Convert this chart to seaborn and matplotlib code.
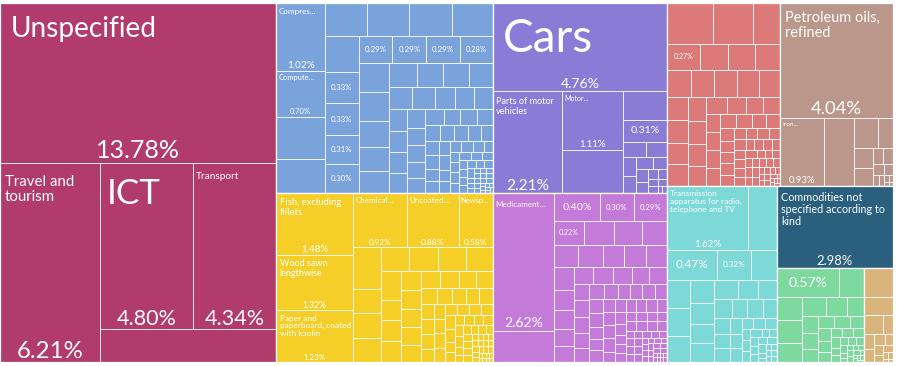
import matplotlib
matplotlib.use("Agg")
import matplotlib.pyplot as plt
from matplotlib.patches import Rectangle
import pandas as pd
import seaborn as sns

# export shares (%) per product, grouped by section
services_shares = [13.78, 6.21, 4.80, 4.34, 1.81]
machines_shares = [1.02, 0.70, 0.63, 0.52, 0.43, 0.43, 0.43, 0.42, 0.38, 0.33, 0.33, 0.31, 0.30,
                   0.29, 0.29, 0.29, 0.28, 0.27, 0.27, 0.25, 0.22, 0.21, 0.21, 0.20, 0.19, 0.18,
                   0.16, 0.16, 0.14, 0.13, 0.13, 0.12, 0.12, 0.12, 0.11, 0.11, 0.10, 0.10, 0.09,
                   0.09, 0.09, 0.08, 0.08, 0.08, 0.07, 0.07, 0.07, 0.06, 0.06, 0.06, 0.06, 0.05,
                   0.05, 0.05, 0.05, 0.04, 0.04, 0.04, 0.04, 0.04, 0.03, 0.03, 0.03, 0.03, 0.03,
                   0.03, 0.03, 0.03, 0.02, 0.02, 0.02, 0.02, 0.02, 0.02, 0.02, 0.02, 0.01, 0.01,
                   0.01, 0.01, 0.01, 0.01, 0.01, 0.01, 0.01, 0.01, 0.01, 0.01, 0.01, 0.01,
                   0.005, 0.005, 0.005, 0.005, 0.005, 0.005, 0.005, 0.005]
paper_shares = [1.48, 1.32, 1.23, 0.92, 0.88, 0.58, 0.36, 0.21, 0.21, 0.21, 0.21, 0.21, 0.20, 0.20,
                0.18, 0.13, 0.13, 0.13, 0.12, 0.12, 0.12, 0.11, 0.11, 0.10, 0.10, 0.09, 0.09, 0.08,
                0.08, 0.07, 0.07, 0.07, 0.06, 0.06, 0.06, 0.05, 0.05, 0.05, 0.05, 0.05, 0.04, 0.04,
                0.04, 0.04, 0.04, 0.04, 0.03, 0.03, 0.03, 0.03, 0.03, 0.03, 0.03, 0.03, 0.02, 0.02,
                0.02, 0.02, 0.02, 0.02, 0.02, 0.02, 0.02, 0.02, 0.01, 0.01, 0.01, 0.01, 0.01, 0.01,
                0.01, 0.01, 0.01, 0.01, 0.01, 0.01, 0.01, 0.01,
                0.005, 0.005, 0.005, 0.005, 0.005, 0.005, 0.005, 0.005]
vehicles_shares = [4.76, 2.21, 1.11, 0.82, 0.40, 0.31, 0.11, 0.10, 0.08, 0.07, 0.06, 0.05, 0.05,
                   0.04, 0.03, 0.03, 0.02, 0.02, 0.02, 0.01, 0.01]
chemicals_shares = [2.62, 0.60, 0.40, 0.30, 0.29, 0.22, 0.22, 0.21, 0.18, 0.17, 0.17, 0.15, 0.15,
                    0.15, 0.14, 0.12, 0.12, 0.10, 0.10, 0.10, 0.10, 0.10, 0.09, 0.09, 0.08, 0.08,
                    0.08, 0.07, 0.07, 0.07, 0.07, 0.06, 0.06, 0.06, 0.06, 0.06, 0.06, 0.05, 0.05,
                    0.05, 0.05, 0.05, 0.05, 0.05, 0.04, 0.04, 0.04, 0.04, 0.04, 0.04, 0.04, 0.04,
                    0.03, 0.03, 0.03, 0.03, 0.03, 0.03, 0.03, 0.03, 0.03, 0.03, 0.03, 0.02, 0.02,
                    0.02, 0.02, 0.02, 0.02, 0.02, 0.02, 0.02, 0.02, 0.02, 0.01, 0.01, 0.01, 0.01,
                    0.01, 0.01, 0.01, 0.01, 0.01, 0.01, 0.01, 0.01, 0.01, 0.01,
                    0.005, 0.005, 0.005, 0.005, 0.005, 0.005, 0.005, 0.005]
metals_shares = [0.58, 0.51, 0.34, 0.27, 0.23, 0.22, 0.21, 0.20, 0.20, 0.19, 0.19, 0.18, 0.15,
                 0.15, 0.14, 0.14, 0.13, 0.13, 0.12, 0.11, 0.11, 0.10, 0.09, 0.09, 0.08, 0.08,
                 0.08, 0.08, 0.07, 0.07, 0.06, 0.06, 0.06, 0.05, 0.05, 0.05, 0.05, 0.04, 0.04,
                 0.04, 0.04, 0.04, 0.03, 0.03, 0.03, 0.03, 0.03, 0.03, 0.03, 0.03, 0.03, 0.02,
                 0.02, 0.02, 0.02, 0.02, 0.02, 0.02, 0.02, 0.02, 0.02, 0.02, 0.02, 0.01, 0.01,
                 0.01, 0.01, 0.01, 0.01, 0.01, 0.01, 0.01,
                 0.005, 0.005, 0.005, 0.005, 0.005, 0.005]
minerals_shares = [4.04, 0.93, 0.64, 0.22, 0.14, 0.12, 0.10, 0.05, 0.05, 0.04, 0.03, 0.02, 0.02,
                   0.01, 0.01, 0.005, 0.005]
electronics_shares = [1.62, 0.57, 0.47, 0.32, 0.24, 0.20, 0.20, 0.19, 0.17, 0.16, 0.15, 0.14, 0.14,
                      0.12, 0.11, 0.10, 0.09, 0.09, 0.08, 0.08, 0.07, 0.07, 0.06, 0.05, 0.05,
                      0.04, 0.04, 0.04, 0.03, 0.03, 0.03, 0.03, 0.02, 0.02, 0.02, 0.02, 0.02,
                      0.02, 0.02, 0.02, 0.01, 0.01, 0.01, 0.01, 0.01, 0.01, 0.01, 0.01]
unclassified_shares = [2.98]
vegetables_shares = [0.57, 0.23, 0.18, 0.18, 0.15, 0.14, 0.12, 0.10, 0.09, 0.08, 0.07, 0.06, 0.06,
                     0.05, 0.05, 0.04, 0.04, 0.03, 0.03, 0.03, 0.03, 0.02, 0.02, 0.02, 0.02,
                     0.02, 0.02, 0.01, 0.01, 0.01, 0.01, 0.01, 0.01, 0.01, 0.01,
                     0.005, 0.005, 0.005, 0.005, 0.005, 0.005]
textiles_shares = [0.27, 0.16, 0.11, 0.06, 0.05, 0.04, 0.04, 0.03, 0.03, 0.02, 0.02, 0.01, 0.01,
                   0.005, 0.005]

# product names shown in the cells
services_names = {0: "Unspecified", 1: "Travel and\ntourism", 2: "ICT", 3: "Transport"}
machines_names = {0: "Compres...", 1: "Compute..."}
paper_names = {0: "Fish, excluding\nfillets", 1: "Wood sawn\nlengthwise",
               2: "Paper and\npaperboard, coated\nwith kaolin", 3: "Chemical...",
               4: "Uncoated...", 5: "Newsp..."}
vehicles_names = {0: "Cars", 1: "Parts of motor\nvehicles", 2: "Motor..."}
chemicals_names = {0: "Medicament..."}
minerals_names = {0: "Petroleum oils,\nrefined", 1: "Iron..."}
electronics_names = {0: "Transmission\napparatus for radio,\ntelephone and TV"}
unclassified_names = {0: "Commodities not\nspecified according to\nkind"}

sections = ["services", "machines", "paper", "vehicles", "chemicals", "metals", "minerals",
            "electronics", "unclassified", "vegetables", "textiles"]
shares = [services_shares, machines_shares, paper_shares, vehicles_shares, chemicals_shares,
          metals_shares, minerals_shares, electronics_shares, unclassified_shares,
          vegetables_shares, textiles_shares]
names = [services_names, machines_names, paper_names, vehicles_names, chemicals_names, {},
         minerals_names, electronics_names, unclassified_names, {}, {}]
palette = sns.color_palette(["#B13B6B", "#7BA3DB", "#F5CF27", "#8A7BD6", "#C47AD8", "#DC7A7A",
                             "#BA978A", "#7DD8D8", "#2A5F7D", "#7ED99E", "#D9B47C"])

# label font sizes in pixels: (name, share); a key means the share is printed
label_px = {
    ("services", 0): (28, 25), ("services", 1): (15, 24), ("services", 2): (35, 21.5),
    ("services", 3): (10, 21.5),
    ("machines", 0): (8, 10), ("machines", 1): (7.5, 7.5),
    ("machines", 9): (None, 7.8), ("machines", 10): (None, 7.8), ("machines", 11): (None, 7.8),
    ("machines", 12): (None, 7.8), ("machines", 13): (None, 8), ("machines", 14): (None, 8),
    ("machines", 15): (None, 8), ("machines", 16): (None, 7.5),
    ("paper", 0): (9.5, 9.8), ("paper", 1): (9, 8.7), ("paper", 2): (8.3, 8),
    ("paper", 3): (8, 8.2), ("paper", 4): (8, 8.5), ("paper", 5): (7.5, 8.5),
    ("vehicles", 0): (46, 14), ("vehicles", 1): (9.2, 15.5), ("vehicles", 2): (7, 9.7),
    ("vehicles", 5): (None, 10.5),
    ("chemicals", 0): (8, 14), ("chemicals", 2): (None, 10.5), ("chemicals", 3): (None, 7.8),
    ("chemicals", 4): (None, 7.8), ("chemicals", 5): (None, 7.2),
    ("metals", 3): (None, 7.2),
    ("minerals", 0): (14.5, 18.5), ("minerals", 1): (6.5, 9.7),
    ("electronics", 0): (8.3, 9.8), ("electronics", 2): (None, 11.7),
    ("electronics", 3): (None, 8.1),
    ("unclassified", 0): (10.8, 13),
    ("vegetables", 0): (None, 14),
}


def squarify(values, x0, y0, x1, y1):
    """Squarified treemap (d3 style, ratio 1); values sorted descending."""
    rects = []
    total = float(sum(values))
    n = len(values)
    i0 = 0
    while i0 < n:
        dx, dy = x1 - x0, y1 - y0
        s = values[i0]
        i1 = i0 + 1
        vmin = vmax = s
        alpha = max(dy / dx, dx / dy) / total
        beta = s * s * alpha
        best = max(vmax / beta, beta / vmin)
        while i1 < n:
            v = values[i1]
            s2 = s + v
            mn, mx = min(vmin, v), max(vmax, v)
            beta = s2 * s2 * alpha
            r = max(mx / beta, beta / mn)
            if r > best:
                break
            s, vmin, vmax, best = s2, mn, mx, r
            i1 += 1
        row = values[i0:i1]
        if dx < dy:
            h = dy * s / total
            xx = x0
            for v in row:
                w = dx * v / s
                rects.append((xx, y0, xx + w, y0 + h))
                xx += w
            y0 += h
        else:
            w = dx * s / total
            yy = y0
            for v in row:
                h = dy * v / s
                rects.append((x0, yy, x0 + w, yy + h))
                yy += h
            x0 += w
        total -= s
        i0 = i1
    return rects


rows = []
for sec, vals in zip(sections, shares):
    for i, v in enumerate(vals):
        rows.append({"section": sec, "idx": i, "share": v})
df = pd.DataFrame(rows)

sns.set_theme(style="white")
plt.rcParams["font.family"] = ["Lato", "DejaVu Sans"]

fig = plt.figure(figsize=(8.97, 3.66), dpi=100)
ax = fig.add_axes([0, 0, 1, 1])
ax.set_xlim(0, 897)
ax.set_ylim(366, 0)
ax.axis("off")

PT = 0.72  # points per pixel at 100 dpi

totals = df.groupby("section", sort=False)["share"].sum()
sec_order = sorted(range(len(sections)), key=lambda k: -totals[sections[k]])
sec_rects = squarify([totals[sections[k]] for k in sec_order], 0, 3, 893, 362)

for k, (sx0, sy0, sx1, sy1) in zip(sec_order, sec_rects):
    sec = sections[k]
    sub = df[df["section"] == sec].sort_values("share", ascending=False, kind="stable")
    cells = squarify(list(sub["share"]), sx0, sy0, sx1, sy1)
    for (_, r), (x0, y0, x1, y1) in zip(sub.iterrows(), cells):
        ax.add_patch(Rectangle((x0, y0), x1 - x0, y1 - y0, facecolor=palette[k],
                               edgecolor="white", linewidth=0.55))
        key = (sec, int(r["idx"]))
        if key not in label_px:
            continue
        name_px, pct_px = label_px[key]
        w, h = x1 - x0, y1 - y0
        pct = f"{r['share']:.2f}%"
        name = names[k].get(int(r["idx"]))
        if name and name_px:
            ax.text(x0 + 0.1 * name_px + 0.03 * w, y0 + 0.25 * name_px + 0.04 * h, name,
                    color="white", fontsize=name_px * PT, ha="left", va="top",
                    linespacing=1.1)
            ax.text((x0 + x1) / 2, y1 - 0.12 * pct_px - 1.5, pct, color="white",
                    fontsize=pct_px * PT, ha="center", va="baseline")
        else:
            ax.text((x0 + x1) / 2, (y0 + y1) / 2, pct, color="white",
                    fontsize=pct_px * PT, ha="center", va="center")
    ax.add_patch(Rectangle((sx0, sy0), sx1 - sx0, sy1 - sy0, facecolor="none",
                           edgecolor="white", linewidth=0.9))

fig.savefig("out.png", dpi=100, facecolor="white")
